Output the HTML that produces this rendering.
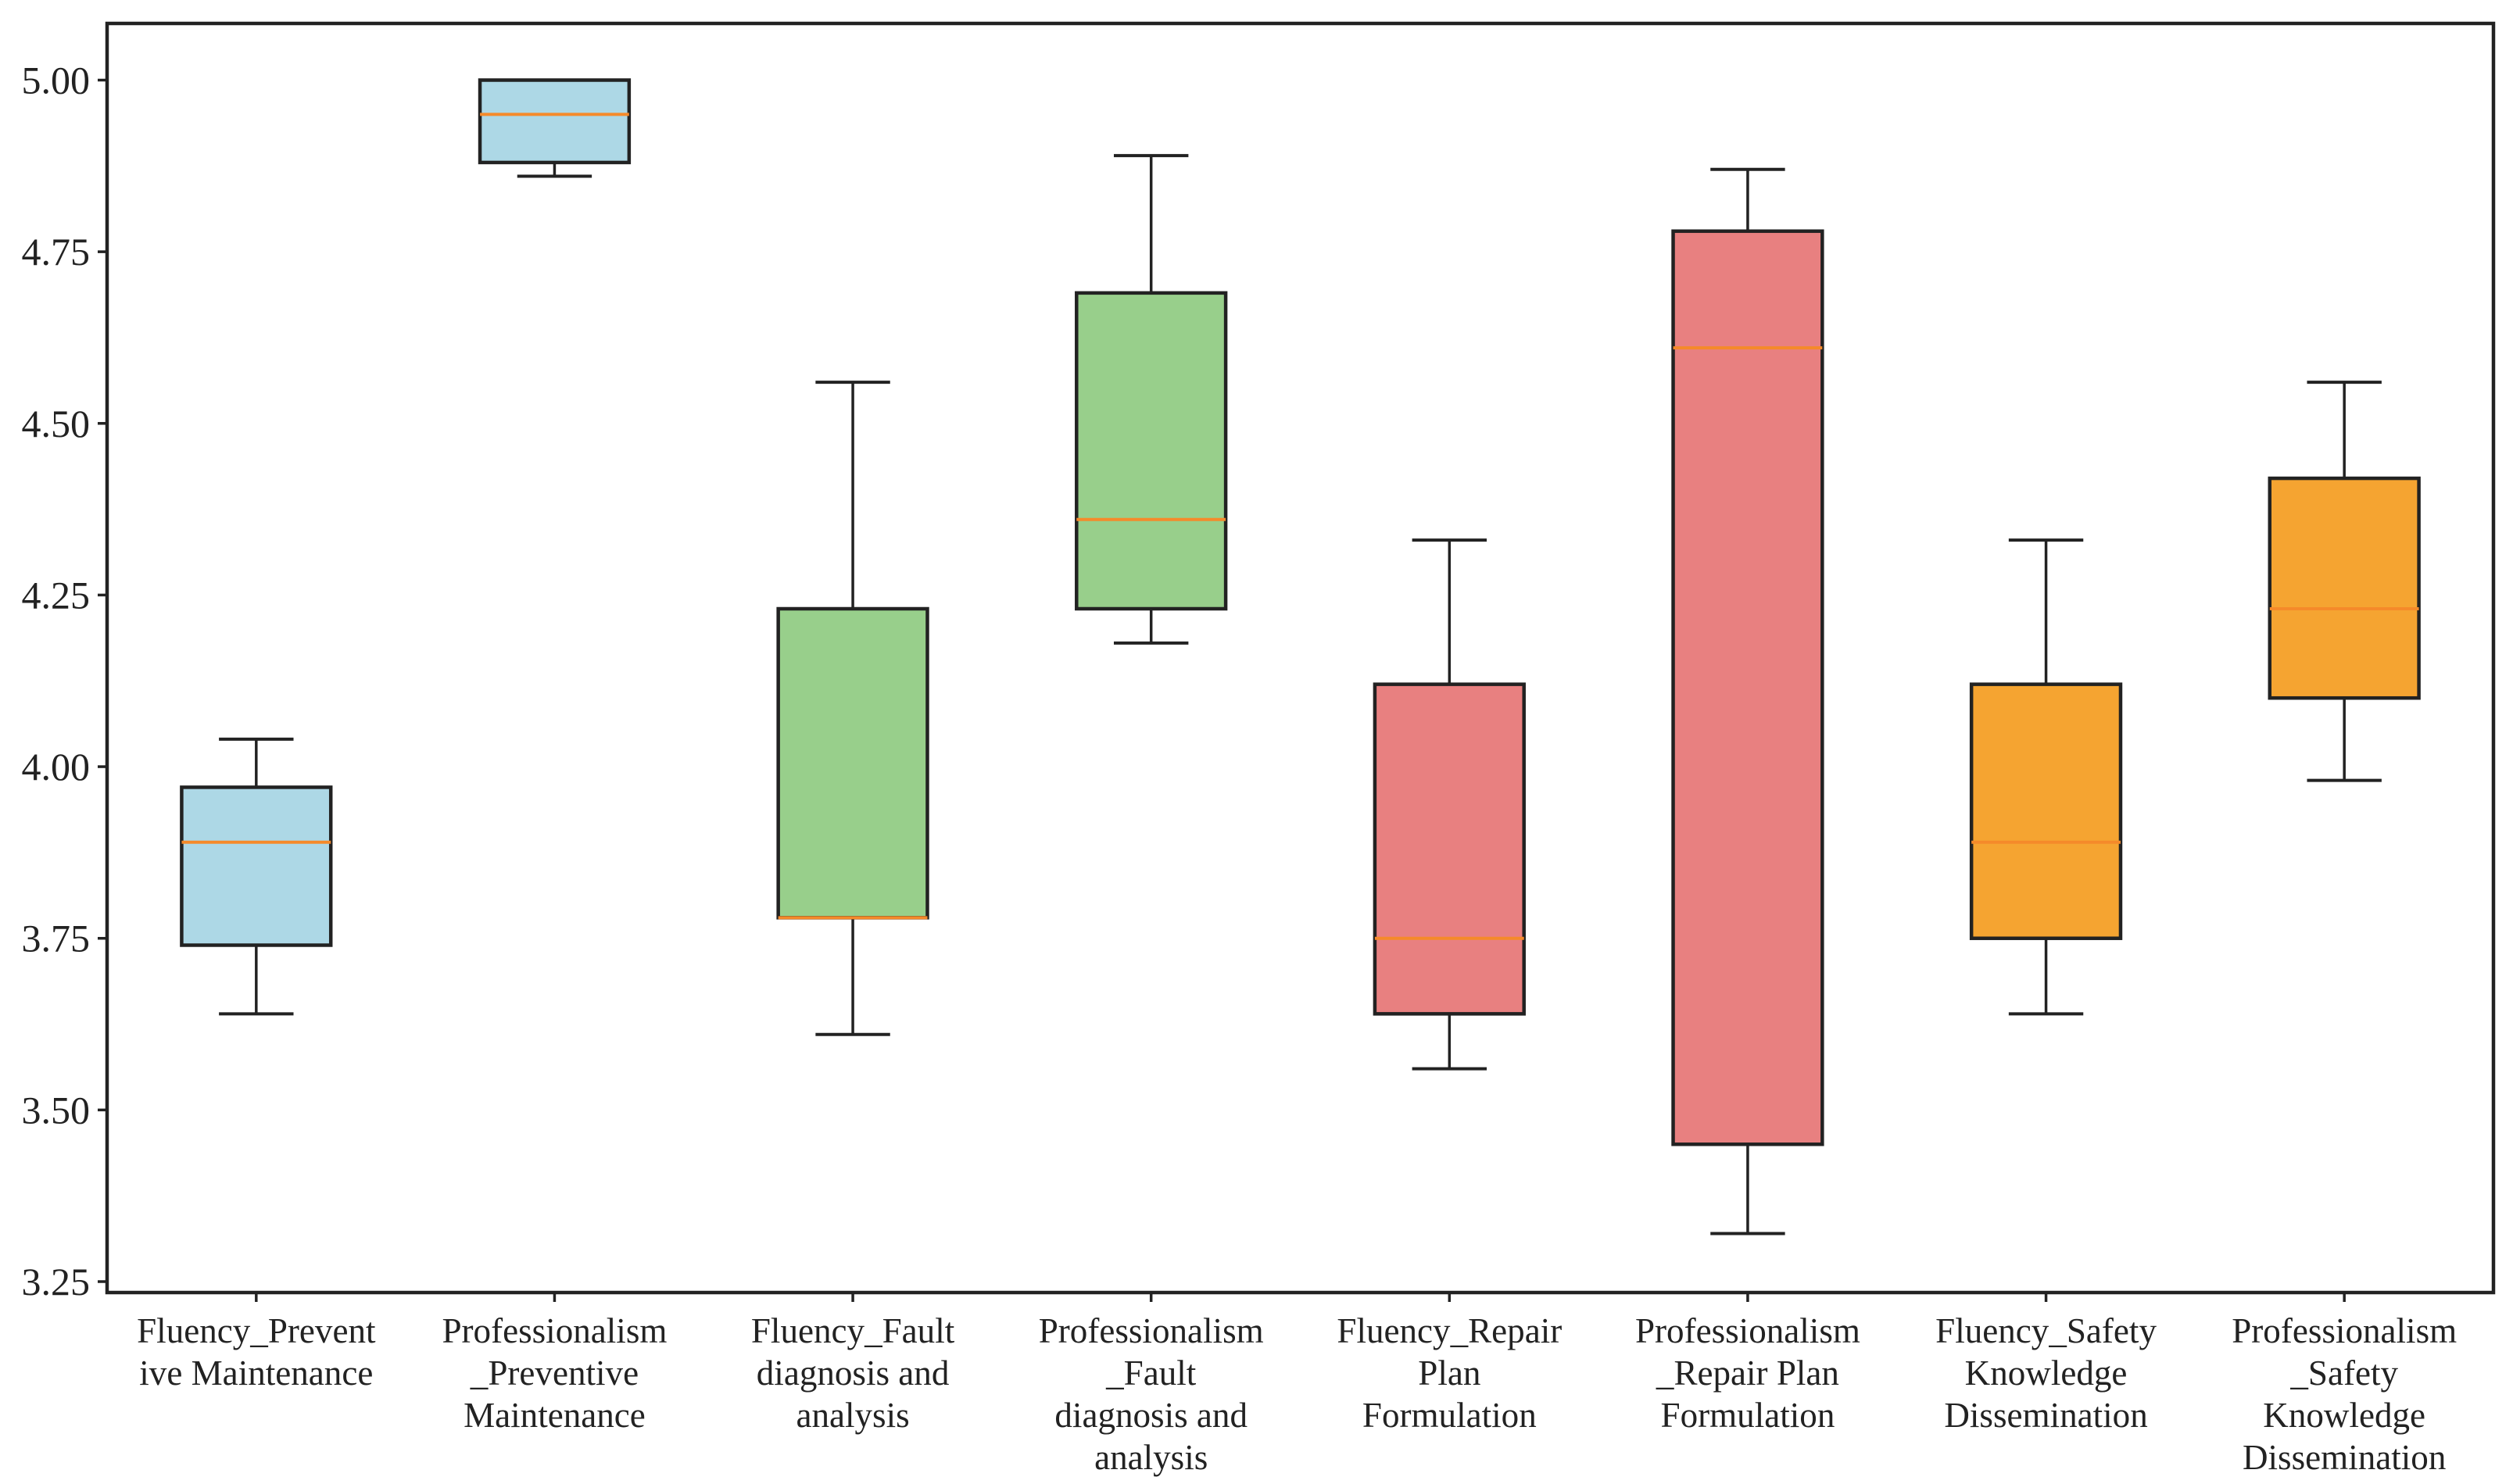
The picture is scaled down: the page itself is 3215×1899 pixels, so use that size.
<!DOCTYPE html>
<html><head><meta charset="utf-8"><style>
html,body{margin:0;padding:0;background:#fff;}
svg{display:block;font-family:"Liberation Serif",serif;}
</style></head><body>
<svg id="chart" width="3215" height="1899" viewBox="0 0 3215 1899" xmlns="http://www.w3.org/2000/svg"></svg>
<script>
const categories = [
  ["Fluency_Prevent","ive Maintenance"],
  ["Professionalism","_Preventive","Maintenance"],
  ["Fluency_Fault","diagnosis and","analysis"],
  ["Professionalism","_Fault","diagnosis and","analysis"],
  ["Fluency_Repair","Plan","Formulation"],
  ["Professionalism","_Repair Plan","Formulation"],
  ["Fluency_Safety","Knowledge","Dissemination"],
  ["Professionalism","_Safety","Knowledge","Dissemination"]
];
const whiskerLow = [3.64, 4.86, 3.61, 4.18, 3.56, 3.32, 3.64, 3.98];
const q1 =        [3.74, 4.88, 3.78, 4.23, 3.64, 3.45, 3.75, 4.10];
const median =    [3.89, 4.95, 3.78, 4.36, 3.75, 4.61, 3.89, 4.23];
const q3 =        [3.97, 5.00, 4.23, 4.69, 4.12, 4.78, 4.12, 4.42];
const whiskerHigh=[4.04, 5.00, 4.56, 4.89, 4.33, 4.87, 4.33, 4.56];
const yTicks = [3.25, 3.50, 3.75, 4.00, 4.25, 4.50, 4.75, 5.00];
const yTickLabels = ["3.25","3.50","3.75","4.00","4.25","4.50","4.75","5.00"];
const colors = ["#add8e6","#add8e6","#98cf8b","#98cf8b","#e88080","#e88080","#f5a431","#f5a431"];

const svg = document.getElementById('chart');
const NS = "http://www.w3.org/2000/svg";
const L=137, R=3190, T=30, B=1654;
const yScale = v => 1640 + (v-3.25)*(102.5-1640)/1.75;
const unit = (R-L)/8;
const xScale = i => L + unit*(i+0.5);
function mk(tag, attrs){const e=document.createElementNS(NS,tag);for(const k in attrs)e.setAttribute(k,attrs[k]);svg.appendChild(e);return e;}

yTicks.forEach((v,i)=>{
  const y=yScale(v);
  const t=mk('line',{x1:L-12,x2:L,y1:y,y2:y,stroke:'#222','stroke-width':3.5});
  
  
  const tx=mk('text',{transform:`translate(${L-22},${y+17}) scale(1,1)`,'text-anchor':'end','font-size':50,fill:'#222'});
  tx.textContent=yTickLabels[i];
  
  
});

categories.forEach((lines,i)=>{
  const cx=xScale(i), hw=unit*0.25, cw=unit*0.125;
  const g=document.createElementNS(NS,'g');svg.appendChild(g);
  
  
  const add=(tag,a)=>{const e=document.createElementNS(NS,tag);for(const k in a)e.setAttribute(k,a[k]);g.appendChild(e);return e;};
  add('line',{x1:cx,x2:cx,y1:yScale(whiskerLow[i]),y2:yScale(q1[i]),stroke:'#222','stroke-width':3.5});
  add('line',{x1:cx,x2:cx,y1:yScale(q3[i]),y2:yScale(whiskerHigh[i]),stroke:'#222','stroke-width':3.5});
  add('line',{x1:cx-cw,x2:cx+cw,y1:yScale(whiskerLow[i]),y2:yScale(whiskerLow[i]),stroke:'#222','stroke-width':4});
  add('line',{x1:cx-cw,x2:cx+cw,y1:yScale(whiskerHigh[i]),y2:yScale(whiskerHigh[i]),stroke:'#222','stroke-width':4});
  add('rect',{x:cx-hw,y:yScale(q3[i]),width:2*hw,height:yScale(q1[i])-yScale(q3[i]),fill:colors[i],stroke:'#222','stroke-width':4.5});
  add('line',{x1:cx-hw,x2:cx+hw,y1:yScale(median[i]),y2:yScale(median[i]),stroke:'#f58a2a','stroke-width':4});
  const tk=mk('line',{x1:cx,x2:cx,y1:B,y2:B+12,stroke:'#222','stroke-width':3.5});
  
  
  lines.forEach((s,j)=>{
    const tx=mk('text',{transform:`translate(${cx},${1718+j*54}) scale(0.98,1)`,'text-anchor':'middle','font-size':46,fill:'#222'});
    tx.textContent=s;
    
    
  });
});
const frame=mk('rect',{x:L,y:T,width:R-L,height:B-T,fill:'none',stroke:'#222','stroke-width':4.5});


</script>
</body></html>
